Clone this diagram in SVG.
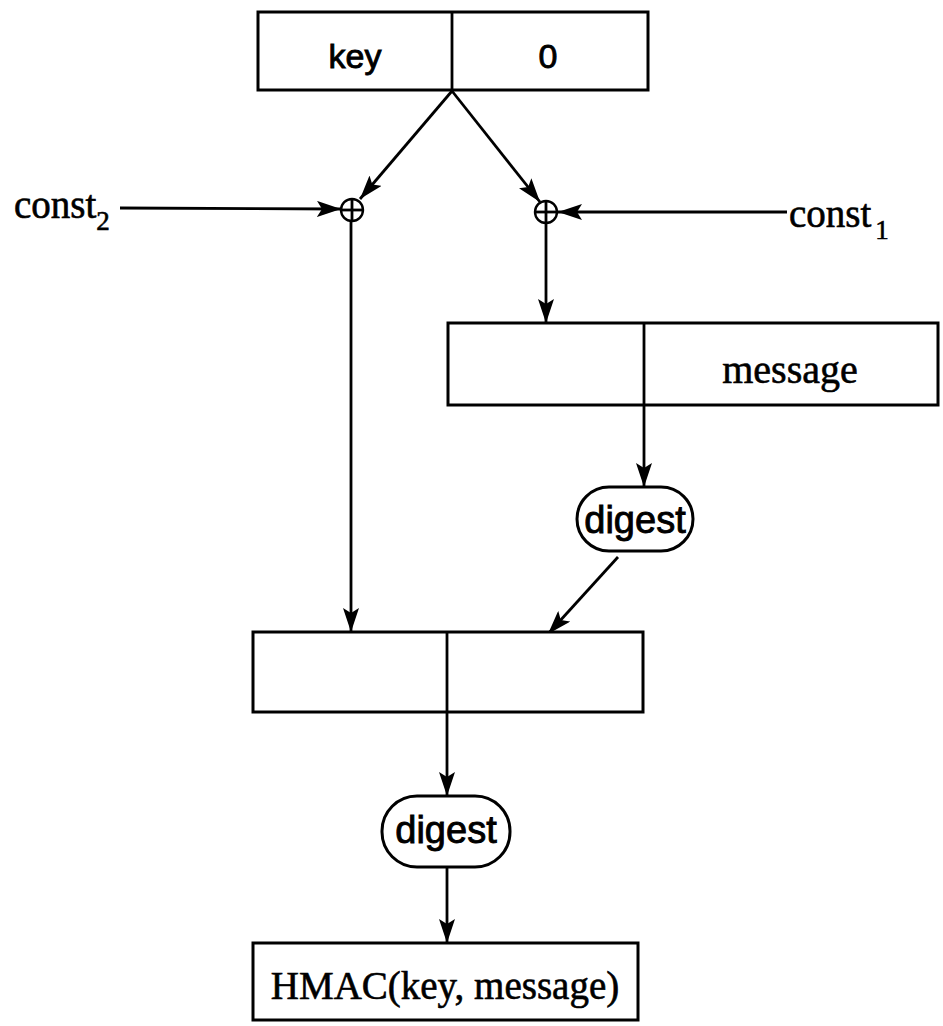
<svg xmlns="http://www.w3.org/2000/svg" width="943" height="1026" viewBox="0 0 943 1026">
  <defs>
    <style>
      .box { fill: #fff; stroke: #000; stroke-width: 3; }
      .div { stroke: #000; stroke-width: 2.8; fill: none; }
      .wire { stroke: #000; stroke-width: 2.8; fill: none; marker-end: url(#arrow); }
      .xor { fill: #fff; stroke: #000; stroke-width: 2.4; }
      .serif { font-family: "Liberation Serif", "Times New Roman", serif; fill: #000; stroke: #000; stroke-width: 0.6; }
      .sans { font-family: "Liberation Sans", Arial, sans-serif; fill: #000; stroke: #000; stroke-width: 0.9; }
    </style>
    <marker id="arrow" markerUnits="userSpaceOnUse" markerWidth="26" markerHeight="16" refX="24" refY="8" orient="auto">
      <path d="M0,0 L24,8 L0,16 L5,8 Z" fill="#000"/>
    </marker>
  </defs>
  <rect width="943" height="1026" fill="#fff"/>

  <!-- connectors -->
  <g id="connectors">
    <line class="wire" x1="452" y1="91" x2="360" y2="199"/>
    <line class="wire" x1="452" y1="91" x2="540" y2="202"/>
    <line class="wire" x1="120" y1="208" x2="341" y2="209"/>
    <line class="wire" x1="787" y1="212" x2="558" y2="212"/>
    <line class="wire" x1="351" y1="220" x2="351" y2="632"/>
    <line class="wire" x1="546" y1="223" x2="546" y2="323"/>
    <line class="wire" x1="644" y1="405" x2="644" y2="487"/>
    <line class="wire" x1="618" y1="557" x2="548" y2="634"/>
    <line class="wire" x1="447" y1="712" x2="447" y2="796"/>
    <line class="wire" x1="447" y1="867" x2="447" y2="943"/>
  </g>

  <!-- key || 0 -->
  <g id="keyblock">
    <rect class="box" x="258" y="12" width="390" height="78"/>
    <line class="div" x1="452" y1="12" x2="452" y2="90"/>
    <text class="sans" x="355" y="68" font-size="34" text-anchor="middle">key</text>
    <text class="sans" x="548" y="68" font-size="34" text-anchor="middle">0</text>
  </g>

  <!-- XOR with const2 -->
  <g id="xor-left">
    <circle class="xor" cx="352" cy="210" r="11"/>
    <line class="div" x1="341" y1="210" x2="363" y2="210" stroke-width="2"/>
    <line class="div" x1="352" y1="199" x2="352" y2="221" stroke-width="2"/>
  </g>

  <!-- XOR with const1 -->
  <g id="xor-right">
    <circle class="xor" cx="546" cy="212" r="11"/>
    <line class="div" x1="535" y1="212" x2="557" y2="212" stroke-width="2"/>
    <line class="div" x1="546" y1="201" x2="546" y2="223" stroke-width="2"/>
  </g>

  <g id="const2">
    <text class="serif" x="14" y="218" font-size="39">const<tspan font-size="27" dy="12">2</tspan></text>
  </g>

  <g id="const1">
    <text class="serif" x="789" y="227" font-size="39">const<tspan font-size="27" dy="12" dx="4">1</tspan></text>
  </g>

  <!-- inner block: (key xor const1) || message -->
  <g id="inner">
    <rect class="box" x="448" y="323" width="490" height="82"/>
    <line class="div" x1="644" y1="323" x2="644" y2="405"/>
    <text class="serif" x="790" y="383" font-size="40" text-anchor="middle">message</text>
  </g>

  <g id="digest1">
    <rect class="box" x="577" y="487" width="116" height="64" rx="32" ry="32"/>
    <text class="sans" x="635" y="533" font-size="38" text-anchor="middle">digest</text>
  </g>

  <!-- outer block: (key xor const2) || inner digest -->
  <g id="outer">
    <rect class="box" x="253" y="632" width="390" height="80"/>
    <line class="div" x1="447" y1="632" x2="447" y2="712"/>
  </g>

  <g id="digest2">
    <rect class="box" x="382" y="796" width="128" height="71" rx="35" ry="35"/>
    <text class="sans" x="446" y="843" font-size="38" text-anchor="middle">digest</text>
  </g>

  <g id="hmac">
    <rect class="box" x="253" y="943" width="385" height="77"/>
    <text class="serif" x="445" y="999" font-size="39" text-anchor="middle">HMAC(key, message)</text>
  </g>
</svg>
